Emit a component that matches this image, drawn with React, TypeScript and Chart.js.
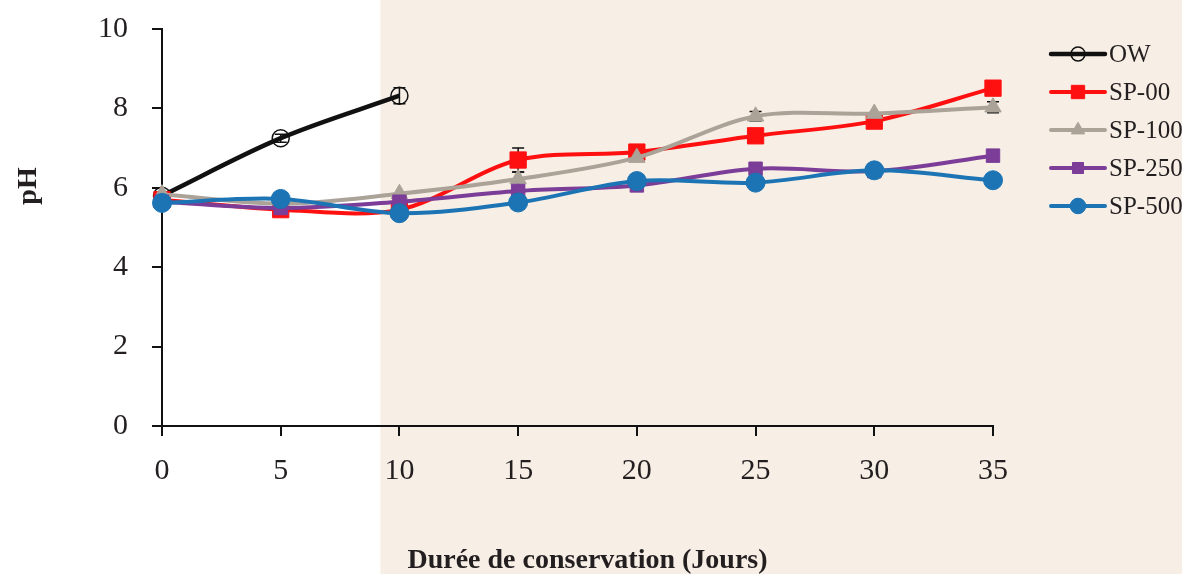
import React, { useEffect, useRef } from 'react';
import { Chart, registerables } from 'chart.js';
import { drawPoint } from 'chart.js/helpers';

Chart.register(...registerables);

// ---- data ----
const DAYS = [0, 5, 10, 15, 20, 25, 30, 35];
const OW_DAYS = [0, 5, 10];
const OW = [5.8, 7.25, 8.32];
const OW_ERR = [0.05, 0.1, 0.2];
const SP00 = [5.7, 5.45, 5.45, 6.7, 6.9, 7.31, 7.68, 8.51];
const SP00_ERR = [0.05, 0.05, 0.05, 0.3, 0.05, 0.05, 0.05, 0.05];
const SP100 = [5.84, 5.6, 5.85, 6.22, 6.76, 7.8, 7.87, 8.03];
const SP100_ERR = [0, 0, 0, 0.18, 0, 0.12, 0, 0.14];
const SP250 = [5.65, 5.49, 5.65, 5.92, 6.06, 6.48, 6.42, 6.81];
const SP500 = [5.62, 5.72, 5.36, 5.63, 6.17, 6.13, 6.44, 6.19];
const LABELS = ['OW', 'SP-00', 'SP-100', 'SP-250', 'SP-500'];
const X_MIN = 0, X_MAX = 35, X_STEP = 5;
const Y_MIN = 0, Y_MAX = 10, Y_STEP = 2;
const SHADE_START = 9.2;
const X_TITLE = 'Durée de conservation (Jours)';
const Y_TITLE = 'pH';

const FONT = "'Liberation Serif', 'DejaVu Serif', serif";
const TEXT = '#231F20';

const pts = (xs: number[], ys: number[]) => xs.map((x, i) => ({ x, y: ys[i] }));

const ERRORS: Record<string, number[]> = {
  OW: OW_ERR,
  'SP-00': SP00_ERR,
  'SP-100': SP100_ERR,
};

const shadePlugin = {
  id: 'shade',
  beforeDraw(chart: any) {
    const ctx = chart.ctx;
    const xs = chart.scales.x;
    const x0 = xs.getPixelForValue(SHADE_START);
    ctx.save();
    ctx.fillStyle = '#F7EEE5';
    ctx.fillRect(x0, 0, chart.width - x0, chart.height);
    ctx.restore();
  },
};

const errorPlugin = {
  id: 'errorBars',
  beforeDatasetsDraw(chart: any) {
    const ctx = chart.ctx;
    const ys = chart.scales.y;
    chart.data.datasets.forEach((ds: any, i: number) => {
      const errs = ERRORS[ds.label];
      if (!errs) return;
      const meta = chart.getDatasetMeta(i);
      meta.data.forEach((pt: any, j: number) => {
        const e = errs[j];
        if (!e) return;
        const v = ds.data[j].y;
        const top = ys.getPixelForValue(v + e);
        const bot = ys.getPixelForValue(v - e);
        ctx.save();
        ctx.strokeStyle = '#111';
        ctx.lineWidth = 1.5;
        ctx.beginPath();
        ctx.moveTo(pt.x, top);
        ctx.lineTo(pt.x, bot);
        ctx.moveTo(pt.x - 6, top);
        ctx.lineTo(pt.x + 6, top);
        ctx.moveTo(pt.x - 6, bot);
        ctx.lineTo(pt.x + 6, bot);
        ctx.stroke();
        ctx.restore();
      });
    });
  },
};

const decoPlugin = {
  id: 'deco',
  afterDraw(chart: any) {
    const ctx = chart.ctx;
    const ca = chart.chartArea;
    ctx.save();
    ctx.fillStyle = TEXT;
    // axis titles
    ctx.font = `bold 28px ${FONT}`;
    ctx.textAlign = 'center';
    ctx.textBaseline = 'middle';
    ctx.fillText(X_TITLE, (ca.left + ca.right) / 2 + 10, chart.height - 13);
    ctx.save();
    ctx.translate(29, ca.top + 157);
    ctx.rotate(-Math.PI / 2);
    ctx.font = `bold 28px ${FONT}`;
    ctx.fillText(Y_TITLE, 0, 0);
    ctx.restore();

    // legend
    const lx0 = ca.right + 58;
    const lx1 = lx0 + 54;
    const rowY0 = 54;
    const rowGap = 38;
    chart.data.datasets.forEach((ds: any, i: number) => {
      const y = rowY0 + i * rowGap;
      ctx.save();
      ctx.strokeStyle = ds.borderColor;
      ctx.lineWidth = ds.borderWidth;
      ctx.lineCap = 'round';
      ctx.beginPath();
      ctx.moveTo(lx0, y);
      ctx.lineTo(lx1, y);
      ctx.stroke();
      ctx.restore();
      ctx.save();
      ctx.fillStyle = ds.pointBackgroundColor;
      ctx.strokeStyle = ds.pointBorderColor;
      ctx.lineWidth = ds.pointBorderWidth;
      drawPoint(ctx, { pointStyle: ds.pointStyle, radius: ds.pointRadius * 0.82, rotation: 0, borderWidth: ds.pointBorderWidth } as any, (lx0 + lx1) / 2, y);
      ctx.restore();
      ctx.fillStyle = TEXT;
      ctx.font = `25px ${FONT}`;
      ctx.textAlign = 'left';
      ctx.textBaseline = 'middle';
      ctx.fillText(ds.label, lx1 + 4, y + 1);
    });
    ctx.restore();
  },
};

function series(label: string, data: any[], color: string, style: string, radius: number, fill: string, bw: number, lw: number) {
  return {
    label,
    data,
    borderColor: color,
    backgroundColor: color,
    borderWidth: lw,
    pointStyle: style,
    pointRadius: radius,
    pointHoverRadius: radius,
    pointBackgroundColor: fill,
    pointBorderColor: color,
    pointBorderWidth: bw,
    tension: 0.33,
    clip: false,
  };
}

export default function App() {
  const ref = useRef<HTMLCanvasElement>(null);
  useEffect(() => {
    if (!ref.current) return;
    const datasets: any[] = [
      series(LABELS[0], pts(OW_DAYS, OW), '#111111', 'circle', 8.5, 'rgba(0,0,0,0)', 1.5, 4.5),
      series(LABELS[1], pts(DAYS, SP00), '#FF1010', 'rect', 11.5, '#FF1010', 1, 4),
      series(LABELS[2], pts(DAYS, SP100), '#ABA298', 'triangle', 9.5, '#ABA298', 1, 4),
      series(LABELS[3], pts(DAYS, SP250), '#7B3D98', 'rect', 9.5, '#7B3D98', 1, 4),
      series(LABELS[4], pts(DAYS, SP500), '#1C74B4', 'circle', 9.5, '#1C74B4', 1, 4),
    ];
    datasets.forEach((d, i) => (d.order = datasets.length - i));
    const chart = new Chart(ref.current, {
      type: 'line',
      data: { datasets },
      options: {
        responsive: false,
        animation: false,
        events: [],
        layout: { padding: { left: 0, top: 29, right: 189, bottom: 0 } },
        plugins: { legend: { display: false }, tooltip: { enabled: false } },
        scales: {
          x: {
            type: 'linear',
            min: X_MIN,
            max: X_MAX,
            afterFit: (s: any) => { s.height = 148; s.paddingLeft = 0; s.paddingRight = 0; },
            border: { display: true, color: '#111', width: 2 },
            grid: { display: true, drawOnChartArea: false, drawTicks: true, tickLength: 10, color: '#111', lineWidth: 2 },
            ticks: { stepSize: X_STEP, color: TEXT, font: { family: FONT, size: 30 }, padding: 17, maxRotation: 0 },
          },
          y: {
            type: 'linear',
            min: Y_MIN,
            max: Y_MAX,
            afterFit: (s: any) => { s.width = 162; s.paddingTop = 0; s.paddingBottom = 0; },
            border: { display: true, color: '#111', width: 2 },
            grid: { display: true, drawOnChartArea: false, drawTicks: true, tickLength: 10, color: '#111', lineWidth: 2 },
            ticks: { stepSize: Y_STEP, color: TEXT, font: { family: FONT, size: 30 }, padding: 24 },
          },
        },
      },
      plugins: [shadePlugin, errorPlugin, decoPlugin],
    } as any);
    return () => chart.destroy();
  }, []);
  return (
    <canvas
      ref={ref}
      width={1182}
      height={574}
      style={{ position: 'fixed', left: 0, top: 0, width: 1182, height: 574 }}
    />
  );
}
